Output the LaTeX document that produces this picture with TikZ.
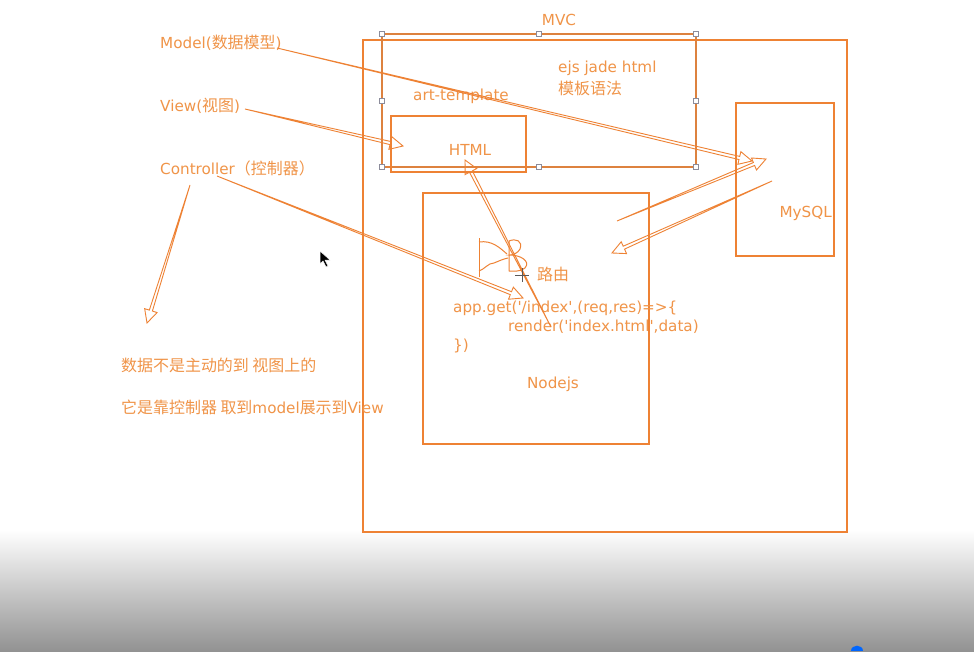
\documentclass[tikz,border=0pt]{standalone}
\usepackage{fontspec}
\setmainfont{DejaVu Sans}[Ligatures=TeXOff]
\newfontfamily\cjk{Noto Sans CJK SC}[Ligatures=TeXOff, Scale=1.05]
\usetikzlibrary{calc}
\definecolor{org}{RGB}{238,130,52}
\definecolor{orgt}{RGB}{240,148,72}
\definecolor{gbot}{RGB}{146,146,146}
\definecolor{hgray}{RGB}{140,140,155}
\tikzset{
 box/.style={draw=org, line width=1.4pt, inner sep=0pt, outer sep=0pt},
 selbox/.style={draw=org!85!gray, line width=1.1pt, inner sep=0pt, outer sep=0pt},
 lbl/.style={text=orgt, font=\fontsize{15.2}{18}\selectfont, inner sep=0pt},
 arr/.style={draw=org, line width=0.9pt, line join=miter},
 handle/.style={draw=hgray, fill=white, line width=0.6pt, minimum size=5pt, inner sep=0pt},
 icon/.style={draw=org, line width=1pt},
}
\newcommand{\harrow}[2]{%
 \coordinate (hB) at ($(#2)!13pt!(#1)$);
 \draw[arr] (#1) -- ($(hB)!1.6pt!90:(#2)$) -- ($(hB)!6.5pt!90:(#2)$) -- (#2) -- ($(hB)!6.5pt!-90:(#2)$) -- ($(hB)!1.6pt!-90:(#2)$) -- cycle;
}
\begin{document}
\begin{tikzpicture}[x=1pt,y=-1pt]
\useasboundingbox (0,0) rectangle (974,651);
\fill[white] (0,0) rectangle (974,651);
\shade[top color=white, bottom color=gbot] (0,530) rectangle (974,651);

% boxes
\node[box, minimum width=484pt, minimum height=492pt] (mvc) at (605,286) {};
\node[selbox, minimum width=314pt, minimum height=133pt] (sel) at (539,100.5) {};
\node[box, minimum width=135pt, minimum height=56pt] (html) at (458.5,144) {};
\node[box, minimum width=226pt, minimum height=251pt] (nodejs) at (536,318.5) {};
\node[box, minimum width=98pt, minimum height=153pt] (mysql) at (785,179.5) {};

% selection handles
\foreach \a in {north west,north,north east,west,east,south west,south,south east}
  \node[handle] at (sel.\a) {};

% labels
\node[lbl] (tmvc) at (559,20) {MVC};
\node[lbl, anchor=west] (tejs) at (558,68) {ejs jade html};
\node[lbl, anchor=west] (tmb) at (558,88) {\cjk 模板语法};
\node[lbl, anchor=west] (tart) at (413,96) {art-template};
\node[lbl] (thtml) at (470,150) {HTML};
\node[lbl, anchor=east] (tsql) at (832,213) {MySQL};
\node[lbl, anchor=west] (troute) at (537,274) {\cjk 路由};
\node[lbl, anchor=west] (code1) at (453,308) {app.get('/index',(req,res)=>\{};
\node[lbl, anchor=west] (code2) at (508,327) {render('index.html',data)};
\node[lbl, anchor=west] (code3) at (453,346) {\})};
\node[lbl] (tnode) at (553,384) {Nodejs};

\node[lbl, anchor=west] (model) at (160,43) {Model({\cjk 数据模型})};
\node[lbl, anchor=west] (view) at (160,106) {View({\cjk 视图})};
\node[lbl, anchor=west] (ctrl) at (160,168) {Controller{\cjk （控制器）}};
\node[lbl, anchor=west] (note1) at (121,365) {\cjk 数据不是主动的到 视图上的};
\node[lbl, anchor=west] (note2) at (121,407) {{\cjk 它是靠控制器 取到}model{\cjk 展示到}View};

% arrow endpoints
\coordinate (m1) at (277,48);  \coordinate (m2) at (752,161);
\coordinate (v1) at (245,109); \coordinate (v2) at (403,146);
\coordinate (c1) at (217,176); \coordinate (c2) at (523,298);
\coordinate (d1) at (190,185); \coordinate (d2) at (147,323);
\coordinate (h1) at (551,327); \coordinate (h2) at (465,160);
\coordinate (s1) at (617,221); \coordinate (s2) at (766,159);
\coordinate (s3) at (772,181); \coordinate (s4) at (612,253);

\harrow{m1}{m2}
\harrow{v1}{v2}
\harrow{c1}{c2}
\harrow{d1}{d2}
\harrow{h1}{h2}
\harrow{s1}{s2}
\harrow{s3}{s4}

% hand-drawn route icon
\draw[icon] (479,238) -- (479,277);
\draw[icon] (479,242) .. controls (492,240) and (500,248) .. (507,254);
\draw[icon] (479,271) .. controls (485,269) and (488,263) .. (494,263) .. controls (499,261) and (503,259) .. (508,258);
\draw[icon] (509,271) -- (509,241) .. controls (516,238) and (523,241) .. (520,249) .. controls (518,253) and (513,255) .. (510,255) .. controls (520,255) and (531,261) .. (525,268) .. controls (521,272) and (513,271) .. (509,271);

% crosshair cursor
\draw[gray!70!black, line width=0.9pt] (515,275) -- (529,275) (522,268) -- (522,282);

% mouse pointer
\filldraw[fill=black, draw=white, line width=0.5pt] (320,251) -- (320,264) -- (323,261) -- (326,267) -- (328,266) -- (325,260) -- (330,260) -- cycle;

% blue marker at bottom
\fill[blue!60!cyan] (851,651) .. controls (851,644) and (863,644) .. (863,651) -- cycle;
\end{tikzpicture}
\end{document}
